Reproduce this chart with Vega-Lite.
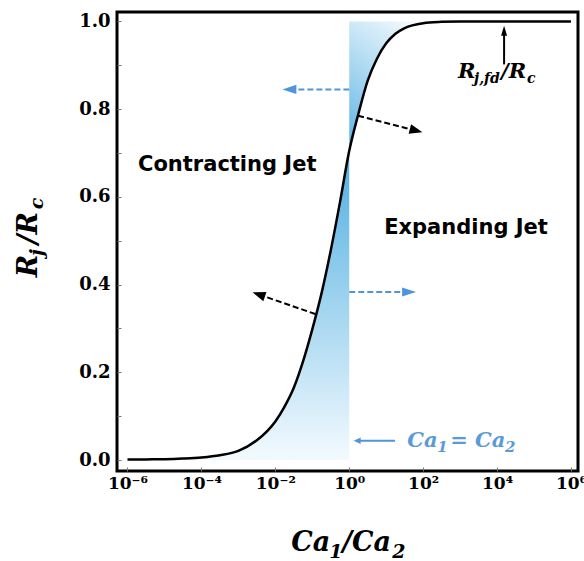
{
  "$schema": "https://vega.github.io/schema/vega-lite/v6.json",
  "autosize": {"type": "none"},
  "padding": {"left": 117, "top": 12, "right": 6, "bottom": 90},
  "width": 461,
  "height": 459,
  "background": "white",
  "view": {"stroke": "black", "strokeWidth": 3},
  "config": {
    "axis": {
      "grid": false,
      "domain": false,
      "tickColor": "#777777",
      "tickWidth": 1,
      "tickSize": -4,
      "labelFont": "DejaVu Serif",
      "labelFontWeight": "bold",
      "labelFontSize": 17,
      "labelColor": "black"
    }
  },
  "datasets": {
    "curve": [
      {"x": 1e-6, "y": 0.001},
      {"x": 3.162e-6, "y": 0.0015},
      {"x": 1e-5, "y": 0.002},
      {"x": 3.162e-5, "y": 0.0035},
      {"x": 1e-4, "y": 0.006},
      {"x": 3.162e-4, "y": 0.011},
      {"x": 1e-3, "y": 0.021},
      {"x": 3.162e-3, "y": 0.045},
      {"x": 1e-2, "y": 0.088},
      {"x": 1.778e-2, "y": 0.122},
      {"x": 3.162e-2, "y": 0.165},
      {"x": 5.623e-2, "y": 0.225},
      {"x": 0.1, "y": 0.298},
      {"x": 0.1778, "y": 0.38},
      {"x": 0.3162, "y": 0.478},
      {"x": 0.5623, "y": 0.588},
      {"x": 1, "y": 0.705},
      {"x": 1.778, "y": 0.79},
      {"x": 3.162, "y": 0.865},
      {"x": 5.623, "y": 0.915},
      {"x": 10, "y": 0.95},
      {"x": 17.78, "y": 0.972},
      {"x": 31.62, "y": 0.985},
      {"x": 100, "y": 0.996},
      {"x": 316.2, "y": 0.999},
      {"x": 1000, "y": 1.0},
      {"x": 10000, "y": 1.0},
      {"x": 100000, "y": 1.0},
      {"x": 1000000, "y": 1.0}
    ],
    "arrows": [
      {"arrow": "A1", "part": "tail", "x": 1, "y": 0.845},
      {"arrow": "A1", "part": "head", "x": 0.024, "y": 0.845},
      {"arrow": "A2", "part": "tail", "x": 1, "y": 0.383},
      {"arrow": "A2", "part": "head", "x": 41.7, "y": 0.383},
      {"arrow": "A3", "part": "tail", "x": 1.74, "y": 0.785},
      {"arrow": "A3", "part": "head", "x": 64.6, "y": 0.751},
      {"arrow": "A4", "part": "tail", "x": 0.12, "y": 0.333},
      {"arrow": "A4", "part": "head", "x": 0.00356, "y": 0.3775},
      {"arrow": "A5", "part": "tail", "x": 17.4, "y": 0.044},
      {"arrow": "A5", "part": "head", "x": 1.64, "y": 0.044},
      {"arrow": "A6", "part": "tail", "x": 15488, "y": 0.902},
      {"arrow": "A6", "part": "head", "x": 15488, "y": 0.979}
    ],
    "notes": [
      {"text": "Contracting Jet", "x": 0.0005, "y": 0.672},
      {"text": "Expanding Jet", "x": 1445, "y": 0.528}
    ],
    "math": [
      {"key": "xtitle", "text": "Ca", "x": 0.02706, "y": -0.2073},
      {"key": "xtitle_sub", "text": "1", "x": 0.288, "y": -0.2073},
      {"key": "xtitle", "text": "/Ca", "x": 0.647, "y": -0.2073},
      {"key": "xtitle_sub", "text": "2", "x": 14.53, "y": -0.2073},
      {"key": "ytitle", "text": "R", "x": 3.55e-9, "y": 0.417},
      {"key": "ytitle_sub", "text": "j", "x": 3.55e-9, "y": 0.465},
      {"key": "ytitle", "text": "/R", "x": 3.55e-9, "y": 0.492},
      {"key": "ytitle_sub", "text": "c", "x": 3.55e-9, "y": 0.572},
      {"key": "rfd", "text": "R", "x": 883, "y": 0.872},
      {"key": "rfd_sub", "text": "j,fd", "x": 2388, "y": 0.872},
      {"key": "rfd", "text": "/R", "x": 12823, "y": 0.872},
      {"key": "rfd_sub", "text": "c", "x": 64710, "y": 0.872},
      {"key": "ca", "text": "Ca", "x": 36.95, "y": 0.0296},
      {"key": "ca_sub", "text": "1", "x": 238.9, "y": 0.0296},
      {"key": "ca", "text": "= Ca", "x": 537, "y": 0.0296},
      {"key": "ca_sub", "text": "2", "x": 16440, "y": 0.0296}
    ]
  },
  "layer": [
    {
      "data": {"name": "curve"},
      "transform": [{"filter": "datum.x <= 1.0001"}],
      "mark": {
        "type": "area",
        "interpolate": "monotone",
        "color": {
          "gradient": "linear",
          "x1": 0, "y1": 0, "x2": 0, "y2": 1,
          "stops": [
            {"offset": 0, "color": "#4FAEE0"},
            {"offset": 1, "color": "#F3FAFE"}
          ]
        }
      },
      "encoding": {
        "x": {
          "field": "x", "type": "quantitative",
          "scale": {"type": "log", "domain": [5.2e-7, 1.549e6], "nice": false},
          "axis": {
            "values": [1e-6, 1e-4, 0.01, 1, 100, 10000, 1000000],
            "labelExpr": "datum.value < 1e-5 ? '10⁻⁶' : datum.value < 1e-3 ? '10⁻⁴' : datum.value < 0.1 ? '10⁻²' : datum.value < 10 ? '10⁰' : datum.value < 1000 ? '10²' : datum.value < 1e5 ? '10⁴' : '10⁶'",
            "labelPadding": 8,
            "title": null
          }
        },
        "y": {
          "field": "y", "type": "quantitative",
          "scale": {"domain": [-0.025, 1.0215], "nice": false, "zero": false},
          "axis": {
            "values": [0, 0.05, 0.1, 0.15, 0.2, 0.25, 0.3, 0.35, 0.4, 0.45, 0.5, 0.55, 0.6, 0.65, 0.7, 0.75, 0.8, 0.85, 0.9, 0.95, 1.0],
            "labelExpr": "abs(datum.value*5 - round(datum.value*5)) < 0.001 ? format(datum.value, '.1f') : ''",
            "labelPadding": 11,
            "labelFontSize": 18,
            "title": null
          }
        },
        "y2": {"datum": 0}
      }
    },
    {
      "data": {"name": "curve"},
      "transform": [{"filter": "datum.x >= 0.9999 && datum.x <= 1000"}],
      "mark": {
        "type": "area",
        "interpolate": "monotone",
        "color": {
          "gradient": "linear",
          "x1": 0, "y1": 1, "x2": 0.6, "y2": 0,
          "stops": [
            {"offset": 0, "color": "#5BB3E4"},
            {"offset": 1, "color": "#F5FBFE"}
          ]
        }
      },
      "encoding": {
        "x": {"field": "x", "type": "quantitative"},
        "y": {"field": "y", "type": "quantitative"},
        "y2": {"datum": 1}
      }
    },
    {
      "mark": {"type": "rule", "color": "#5B9BD5", "strokeWidth": 2},
      "encoding": {
        "x": {"datum": 1, "type": "quantitative"},
        "y": {"datum": 0, "type": "quantitative"},
        "y2": {"datum": 1}
      }
    },
    {
      "data": {"name": "curve"},
      "mark": {"type": "line", "color": "black", "strokeWidth": 2.5, "interpolate": "monotone"},
      "encoding": {
        "x": {"field": "x", "type": "quantitative"},
        "y": {"field": "y", "type": "quantitative"}
      }
    },
    {
      "data": {"name": "arrows"},
      "transform": [{"filter": "datum.arrow == 'A1' || datum.arrow == 'A2'"}],
      "mark": {"type": "line", "color": "#4F95DA", "strokeWidth": 2, "strokeDash": [6, 3]},
      "encoding": {
        "x": {"field": "x", "type": "quantitative"},
        "y": {"field": "y", "type": "quantitative"},
        "detail": {"field": "arrow"}
      }
    },
    {
      "data": {"name": "arrows"},
      "transform": [{"filter": "datum.arrow == 'A3' || datum.arrow == 'A4'"}],
      "mark": {"type": "line", "color": "black", "strokeWidth": 2, "strokeDash": [6, 3]},
      "encoding": {
        "x": {"field": "x", "type": "quantitative"},
        "y": {"field": "y", "type": "quantitative"},
        "detail": {"field": "arrow"}
      }
    },
    {
      "data": {"name": "arrows"},
      "transform": [{"filter": "datum.arrow == 'A5'"}],
      "mark": {"type": "line", "color": "#4F95DA", "strokeWidth": 2},
      "encoding": {
        "x": {"field": "x", "type": "quantitative"},
        "y": {"field": "y", "type": "quantitative"}
      }
    },
    {
      "data": {"name": "arrows"},
      "transform": [{"filter": "datum.arrow == 'A6'"}],
      "mark": {"type": "line", "color": "black", "strokeWidth": 2},
      "encoding": {
        "x": {"field": "x", "type": "quantitative"},
        "y": {"field": "y", "type": "quantitative"}
      }
    },
    {
      "data": {"name": "arrows"},
      "transform": [{"filter": "datum.arrow == 'A1' && datum.part == 'head'"}],
      "mark": {"type": "point", "shape": "M1,0L-1,-0.65L-1,0.65Z", "filled": true, "size": 196, "angle": 180, "color": "#4F95DA", "opacity": 1, "strokeWidth": 0},
      "encoding": {"x": {"field": "x", "type": "quantitative"}, "y": {"field": "y", "type": "quantitative"}}
    },
    {
      "data": {"name": "arrows"},
      "transform": [{"filter": "datum.arrow == 'A2' && datum.part == 'head'"}],
      "mark": {"type": "point", "shape": "M1,0L-1,-0.65L-1,0.65Z", "filled": true, "size": 196, "angle": 0, "color": "#4F95DA", "opacity": 1, "strokeWidth": 0},
      "encoding": {"x": {"field": "x", "type": "quantitative"}, "y": {"field": "y", "type": "quantitative"}}
    },
    {
      "data": {"name": "arrows"},
      "transform": [{"filter": "datum.arrow == 'A3' && datum.part == 'head'"}],
      "mark": {"type": "point", "shape": "M1,0L-1,-0.75L-1,0.75Z", "filled": true, "size": 169, "angle": 15, "color": "black", "opacity": 1, "strokeWidth": 0},
      "encoding": {"x": {"field": "x", "type": "quantitative"}, "y": {"field": "y", "type": "quantitative"}}
    },
    {
      "data": {"name": "arrows"},
      "transform": [{"filter": "datum.arrow == 'A4' && datum.part == 'head'"}],
      "mark": {"type": "point", "shape": "M1,0L-1,-0.75L-1,0.75Z", "filled": true, "size": 169, "angle": 199, "color": "black", "opacity": 1, "strokeWidth": 0},
      "encoding": {"x": {"field": "x", "type": "quantitative"}, "y": {"field": "y", "type": "quantitative"}}
    },
    {
      "data": {"name": "arrows"},
      "transform": [{"filter": "datum.arrow == 'A5' && datum.part == 'head'"}],
      "mark": {"type": "point", "shape": "M1,0L-1,-0.9L-1,0.9Z", "filled": true, "size": 49, "angle": 180, "color": "#4F95DA", "opacity": 1, "strokeWidth": 0},
      "encoding": {"x": {"field": "x", "type": "quantitative"}, "y": {"field": "y", "type": "quantitative"}}
    },
    {
      "data": {"name": "arrows"},
      "transform": [{"filter": "datum.arrow == 'A6' && datum.part == 'head'"}],
      "mark": {"type": "point", "shape": "M1,0L-1,-0.6L-1,0.6Z", "filled": true, "size": 100, "angle": 270, "color": "black", "opacity": 1, "strokeWidth": 0},
      "encoding": {"x": {"field": "x", "type": "quantitative"}, "y": {"field": "y", "type": "quantitative"}}
    },
    {
      "data": {"name": "notes"},
      "mark": {"type": "text", "font": "DejaVu Sans", "fontWeight": "bold", "fontSize": 21, "align": "center", "baseline": "middle", "color": "black"},
      "encoding": {
        "x": {"field": "x", "type": "quantitative"},
        "y": {"field": "y", "type": "quantitative"},
        "text": {"field": "text"}
      }
    },
    {
      "data": {"name": "math"},
      "transform": [{"filter": "datum.key == 'xtitle'"}],
      "mark": {"type": "text", "font": "DejaVu Serif", "fontWeight": "bold", "fontStyle": "italic", "fontSize": 27, "align": "left", "baseline": "alphabetic", "color": "black"},
      "encoding": {"x": {"field": "x", "type": "quantitative"}, "y": {"field": "y", "type": "quantitative"}, "text": {"field": "text"}}
    },
    {
      "data": {"name": "math"},
      "transform": [{"filter": "datum.key == 'xtitle_sub'"}],
      "mark": {"type": "text", "font": "DejaVu Serif", "fontWeight": "bold", "fontStyle": "italic", "fontSize": 19, "align": "left", "baseline": "alphabetic", "dy": 7, "color": "black"},
      "encoding": {"x": {"field": "x", "type": "quantitative"}, "y": {"field": "y", "type": "quantitative"}, "text": {"field": "text"}}
    },
    {
      "data": {"name": "math"},
      "transform": [{"filter": "datum.key == 'ytitle'"}],
      "mark": {"type": "text", "font": "DejaVu Serif", "fontWeight": "bold", "fontStyle": "italic", "fontSize": 27, "align": "left", "baseline": "alphabetic", "angle": 270, "color": "black"},
      "encoding": {"x": {"field": "x", "type": "quantitative"}, "y": {"field": "y", "type": "quantitative"}, "text": {"field": "text"}}
    },
    {
      "data": {"name": "math"},
      "transform": [{"filter": "datum.key == 'ytitle_sub'"}],
      "mark": {"type": "text", "font": "DejaVu Serif", "fontWeight": "bold", "fontStyle": "italic", "fontSize": 19, "align": "left", "baseline": "alphabetic", "angle": 270, "dy": 6, "color": "black"},
      "encoding": {"x": {"field": "x", "type": "quantitative"}, "y": {"field": "y", "type": "quantitative"}, "text": {"field": "text"}}
    },
    {
      "data": {"name": "math"},
      "transform": [{"filter": "datum.key == 'rfd'"}],
      "mark": {"type": "text", "font": "DejaVu Serif", "fontWeight": "bold", "fontStyle": "italic", "fontSize": 21, "align": "left", "baseline": "alphabetic", "color": "black"},
      "encoding": {"x": {"field": "x", "type": "quantitative"}, "y": {"field": "y", "type": "quantitative"}, "text": {"field": "text"}}
    },
    {
      "data": {"name": "math"},
      "transform": [{"filter": "datum.key == 'rfd_sub'"}],
      "mark": {"type": "text", "font": "DejaVu Serif", "fontWeight": "bold", "fontStyle": "italic", "fontSize": 14, "align": "left", "baseline": "alphabetic", "dy": 5, "color": "black"},
      "encoding": {"x": {"field": "x", "type": "quantitative"}, "y": {"field": "y", "type": "quantitative"}, "text": {"field": "text"}}
    },
    {
      "data": {"name": "math"},
      "transform": [{"filter": "datum.key == 'ca'"}],
      "mark": {"type": "text", "font": "DejaVu Serif", "fontWeight": "bold", "fontStyle": "italic", "fontSize": 21, "align": "left", "baseline": "alphabetic", "color": "#5B9BD5"},
      "encoding": {"x": {"field": "x", "type": "quantitative"}, "y": {"field": "y", "type": "quantitative"}, "text": {"field": "text"}}
    },
    {
      "data": {"name": "math"},
      "transform": [{"filter": "datum.key == 'ca_sub'"}],
      "mark": {"type": "text", "font": "DejaVu Serif", "fontWeight": "bold", "fontStyle": "italic", "fontSize": 15, "align": "left", "baseline": "alphabetic", "dy": 5, "color": "#5B9BD5"},
      "encoding": {"x": {"field": "x", "type": "quantitative"}, "y": {"field": "y", "type": "quantitative"}, "text": {"field": "text"}}
    }
  ]
}
